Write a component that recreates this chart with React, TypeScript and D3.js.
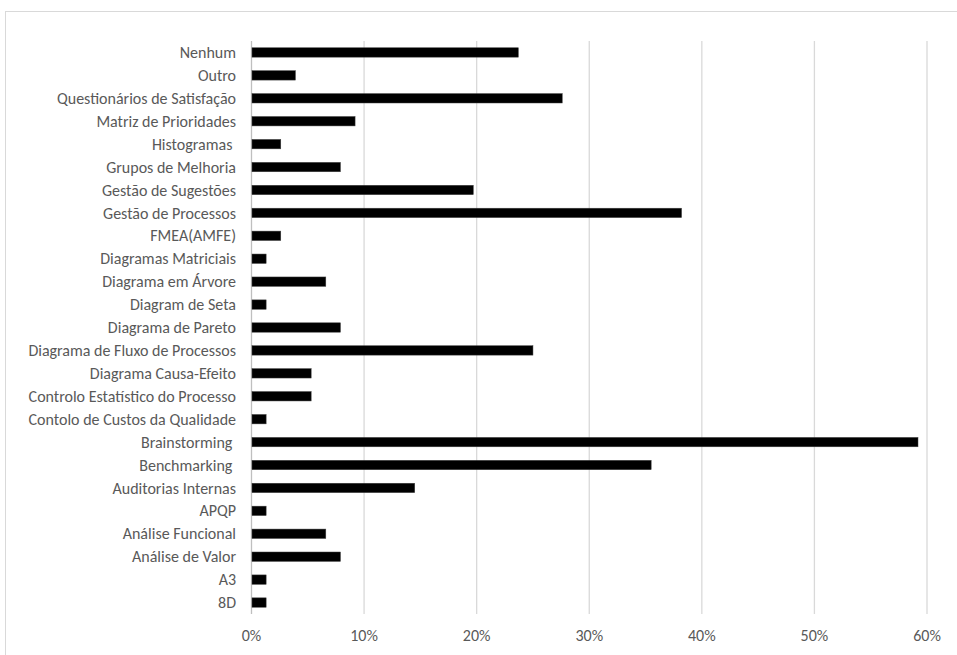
import React from "react";
import * as d3 from "d3";

const categories: string[] = [
  "Nenhum",
  "Outro",
  "Questionários de Satisfação",
  "Matriz de Prioridades",
  "Histogramas ",
  "Grupos de Melhoria",
  "Gestão de Sugestões",
  "Gestão de Processos",
  "FMEA(AMFE)",
  "Diagramas Matriciais",
  "Diagrama em Árvore",
  "Diagram de Seta",
  "Diagrama de Pareto",
  "Diagrama de Fluxo de Processos",
  "Diagrama Causa-Efeito",
  "Controlo Estatístico do Processo",
  "Contolo de Custos da Qualidade",
  "Brainstorming ",
  "Benchmarking ",
  "Auditorias Internas",
  "APQP",
  "Análise Funcional",
  "Análise de Valor",
  "A3",
  "8D",
];

const values: number[] = [
  0.237, 0.039, 0.276, 0.092, 0.026, 0.079, 0.197, 0.382, 0.026, 0.013, 0.066,
  0.013, 0.079, 0.25, 0.053, 0.053, 0.013, 0.592, 0.355, 0.145, 0.013, 0.066,
  0.079, 0.013, 0.013,
];

const ticks: number[] = [0, 0.1, 0.2, 0.3, 0.4, 0.5, 0.6];

const W = 957;
const H = 655;
const FONT = "Carlito, Calibri, Lato, 'Open Sans', sans-serif";

export default function App() {
  const x = d3.scaleLinear().domain([0, 0.6]).range([251.5, 927]);
  const y = d3
    .scaleBand<string>()
    .domain(categories)
    .range([41, 614])
    .paddingInner(0.59)
    .paddingOuter(0.295);
  const fmt = d3.format(".0%");

  return (
    <svg
      width={W}
      height={H}
      style={{ position: "fixed", left: 0, top: 0, background: "#fff" }}
    >
      <rect
        x={5.5}
        y={11.5}
        width={W + 10}
        height={H + 10}
        fill="#fff"
        stroke="#d9d9d9"
        strokeWidth={1}
      />
      {ticks.map((t) => (
        <line
          key={"g" + t}
          x1={x(t)}
          x2={x(t)}
          y1={41}
          y2={614}
          stroke={t === 0 ? "#bfbfbf" : "#d9d9d9"}
          strokeWidth={1.3}
        />
      ))}
      {categories.map((c, i) => (
        <rect
          key={"b" + c}
          x={x(0) + 0.5}
          y={y(c)!}
          width={x(values[i]) - x(0) - 0.5}
          height={y.bandwidth()}
          fill="#000"
          stroke="#404040"
          strokeWidth={0.5}
        />
      ))}
      {categories.map((c) => (
        <text
          key={"l" + c}
          x={236}
          y={y(c)! + y.bandwidth() / 2}
          dy="0.35em"
          textAnchor="end"
          fontFamily={FONT}
          fontSize={16}
          fill="#595959"
          style={{ whiteSpace: "pre" }}
          xmlSpace="preserve"
        >
          {c}
        </text>
      ))}
      {ticks.map((t) => (
        <text
          key={"t" + t}
          x={x(t)}
          y={635}
          dy="0.35em"
          textAnchor="middle"
          fontFamily={FONT}
          fontSize={16}
          fill="#595959"
        >
          {fmt(t)}
        </text>
      ))}
    </svg>
  );
}
